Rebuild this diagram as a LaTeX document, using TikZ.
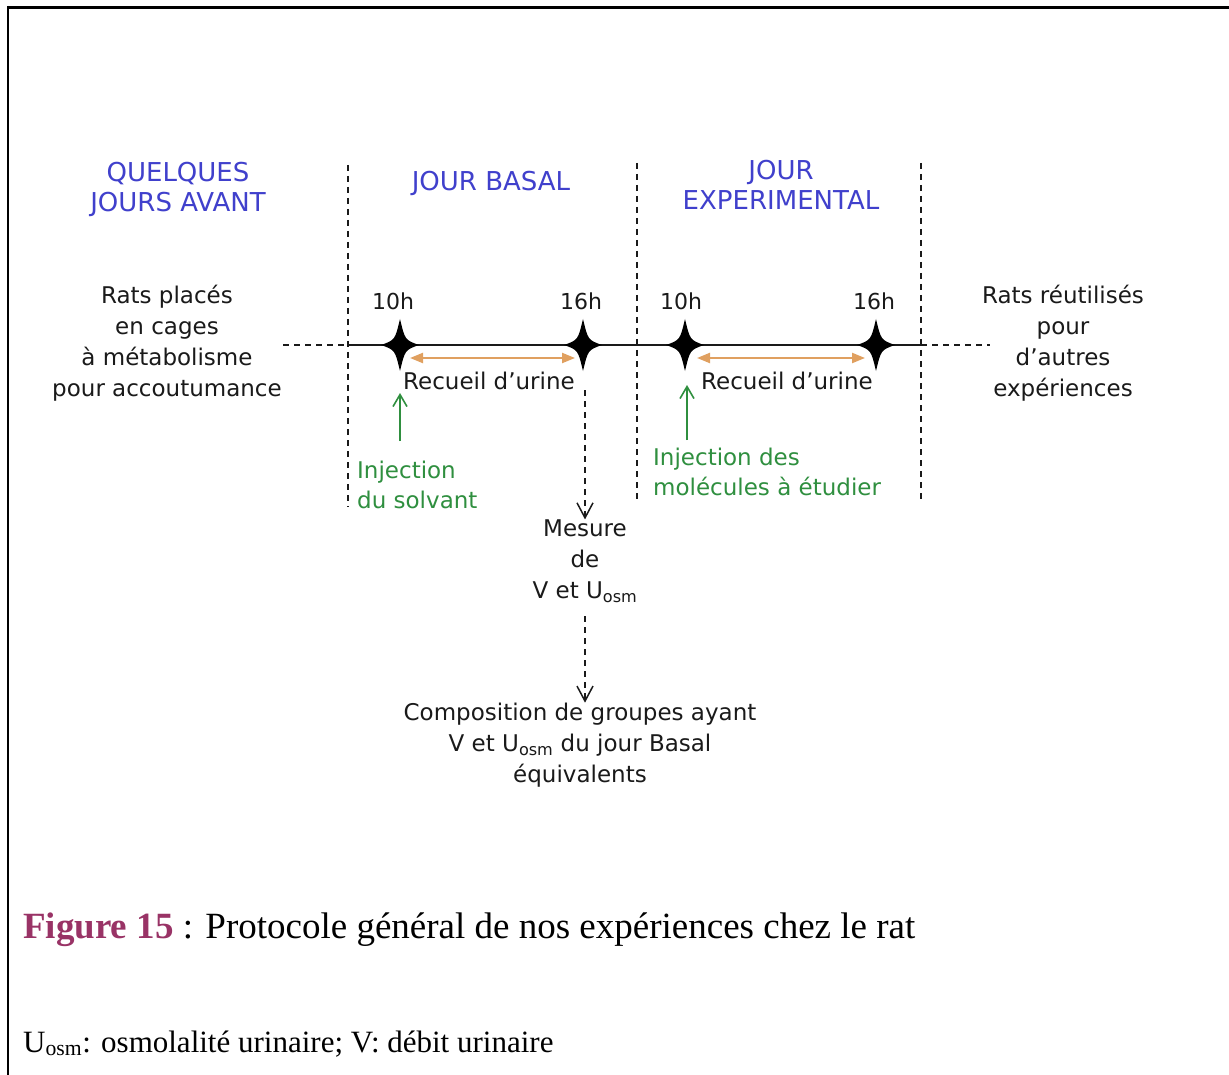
\documentclass[tikz,border=0pt]{standalone}
\usepackage{fontspec}
\setmainfont{DejaVu Sans}
\newfontfamily\capfont{Liberation Serif}
\usetikzlibrary{arrows.meta}
\definecolor{hblue}{HTML}{4040CC}
\definecolor{igreen}{HTML}{2F8F3F}
\definecolor{aorange}{HTML}{E0A060}
\definecolor{fpurple}{HTML}{993366}
\definecolor{ink}{HTML}{1A1A1A}
\tikzset{
  txt/.style={inner sep=0pt, text=ink, align=center, font=\fontsize{23}{31}\selectfont},
  hdr/.style={inner sep=0pt, text=hblue, align=center, font=\fontsize{26}{30}\selectfont},
  grn/.style={inner sep=0pt, text=igreen, align=left, font=\fontsize{23}{30}\selectfont},
  hour/.style={inner sep=0pt, text=ink, font=\fontsize{22}{26}\selectfont},
  vdash/.style={line width=1.4pt, dash pattern=on 6pt off 5pt, ink},
  hdash/.style={line width=1.4pt, dash pattern=on 6pt off 5pt, ink},
  orarrow/.style={aorange, line width=2.2pt, {Triangle[length=13pt,width=10pt]}-{Triangle[length=13pt,width=10pt]}},
  grarrow/.style={igreen, line width=1.6pt, -{Straight Barb[length=12pt,width=14pt]}},
  dnarrow/.style={line width=1.4pt, dash pattern=on 6pt off 5pt, ink, -{Straight Barb[length=15pt,width=16pt, line width=1.5pt]}},
  spark/.pic={\fill[black] (0,-26) .. controls (5,-5) .. (19,0) .. controls (5,5) .. (0,26) .. controls (-5,5) .. (-19,0) .. controls (-5,-5) .. cycle;}
}
\begin{document}
\begin{tikzpicture}[x=1pt,y=-1pt]
\useasboundingbox (0,0) rectangle (1229,1075);
\fill[white] (0,0) rectangle (1229,1075);
\draw[line width=3pt] (7,7.5) -- (1229,7.5);
\draw[line width=2pt] (8,6) -- (8,1075);

% headers
\node[hdr] (h1) at (178,189) {QUELQUES\\JOURS AVANT};
\node[hdr] (h2) at (491,183) {JOUR BASAL};
\node[hdr] (h3) at (781,185) {JOUR\\EXPERIMENTAL};

% vertical dashed separators
\coordinate (v1t) at (348,165); \coordinate (v1b) at (348,507);
\coordinate (v2t) at (637,163); \coordinate (v2b) at (637,500);
\coordinate (v3t) at (921,163); \coordinate (v3b) at (921,502);
\draw[vdash] (v1t) -- (v1b);
\draw[vdash] (v2t) -- (v2b);
\draw[vdash] (v3t) -- (v3b);

% timeline
\coordinate (tl0) at (283,345);
\coordinate (tl1) at (348,345);
\coordinate (tl2) at (921,345);
\coordinate (tl3) at (990,345);
\draw[hdash] (tl0) -- (tl1);
\draw[line width=2pt, ink] (tl1) -- (tl2);
\draw[hdash] (tl2) -- (tl3);

\coordinate (s1) at (400,345);
\coordinate (s2) at (583,345);
\coordinate (s3) at (685,345);
\coordinate (s4) at (876,345);
\pic at (s1) {spark};
\pic at (s2) {spark};
\pic at (s3) {spark};
\pic at (s4) {spark};

\node[hour] (t1) at (393,301) {10h};
\node[hour] (t2) at (581,301) {16h};
\node[hour] (t3) at (681,301) {10h};
\node[hour] (t4) at (874,301) {16h};

% side texts
\node[txt] (left) at (167,343) {Rats placés\\en cages\\à métabolisme\\pour accoutumance};
\node[txt] (right) at (1063,343) {Rats réutilisés\\pour\\d’autres\\expériences};

% urine collection
\coordinate (o1a) at (410,358); \coordinate (o1b) at (575,358);
\coordinate (o2a) at (697,358); \coordinate (o2b) at (865,358);
\draw[orarrow] (o1a) -- (o1b);
\draw[orarrow] (o2a) -- (o2b);
\node[txt] (r1) at (489,381) {Recueil d’urine};
\node[txt] (r2) at (787,381) {Recueil d’urine};

% injections
\node[grn, anchor=west] (inj1) at (357,485) {Injection\\du solvant};
\node[grn, anchor=west] (inj2) at (653,472) {Injection des\\molécules à étudier};
\coordinate (g1a) at (400,441); \coordinate (g1b) at (400,393);
\coordinate (g2a) at (687,440); \coordinate (g2b) at (687,385);
\draw[grarrow] (g1a) -- (g1b);
\draw[grarrow] (g2a) -- (g2b);

% measure
\node[txt] (mes) at (585,561) {Mesure\\de\\V et U\textsubscript{osm}};
\coordinate (d1) at (585,390);
\draw[dnarrow] (d1) -- (d1 |- mes.north);
\node[txt] (comp) at (580,745) {Composition de groupes ayant\\V et U\textsubscript{osm} du jour Basal\\équivalents};
\coordinate (d2) at (585,616);
\draw[dnarrow] (d2) -- (d2 |- comp.north);

% caption
\node[inner sep=0pt, anchor=base west, font=\capfont\fontsize{37}{42}\selectfont] (cap) at (23,938)
  {\textcolor{fpurple}{\textbf{Figure 15}} : Protocole général de nos expériences chez le rat};
\node[inner sep=0pt, anchor=base west, font=\capfont\fontsize{31}{34}\selectfont] (foot) at (23,1052)
  {U\textsubscript{osm}: osmolalité urinaire; V: débit urinaire};
\end{tikzpicture}
\end{document}
